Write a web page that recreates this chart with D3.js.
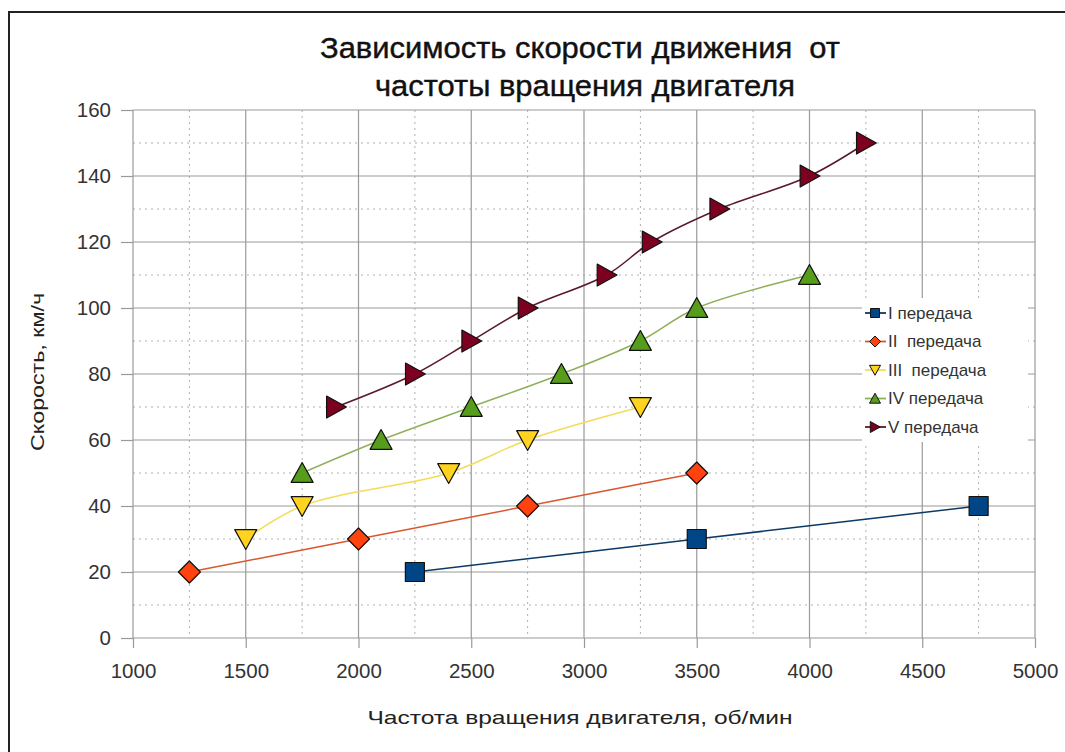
<!DOCTYPE html>
<html>
<head>
<meta charset="utf-8">
<script src="https://cdn.jsdelivr.net/npm/d3@7/dist/d3.min.js"></script>
<style>
  html, body { margin: 0; padding: 0; background: #fff; }
  svg { display: block; font-family: "Liberation Sans", Arial, sans-serif; }
</style>
</head>
<body>
<svg id="chart" width="1065" height="752"></svg>
<script>
// ---- data ----
const titleLines = ["Зависимость скорости движения  от", "частоты вращения двигателя"];
const xAxisTitle = "Частота вращения двигателя, об/мин";
const yAxisTitle = "Скорость, км/ч";
const xTicks = [1000, 1500, 2000, 2500, 3000, 3500, 4000, 4500, 5000];
const xMinor = [1250, 1750, 2250, 2750, 3250, 3750, 4250, 4750];
const yTicks = [0, 20, 40, 60, 80, 100, 120, 140, 160];
const yMinor = [10, 30, 50, 70, 90, 110, 130, 150];
const seriesNames = ["I передача", "II  передача", "III  передача", "IV передача", "V передача"];
const gear1X = [2250, 3500, 4750];
const gear1Y = [20, 30, 40];
const gear2X = [1250, 2000, 2750, 3500];
const gear2Y = [20, 30, 40, 50];
const gear3X = [1500, 1750, 2400, 2750, 3250];
const gear3Y = [30, 40, 50, 60, 70];
const gear4X = [1750, 2100, 2500, 2900, 3250, 3500, 4000];
const gear4Y = [50, 60, 70, 80, 90, 100, 110];
const gear5X = [1900, 2250, 2500, 2750, 3100, 3300, 3600, 4000, 4250];
const gear5Y = [70, 80, 90, 100, 110, 120, 130, 140, 150];

const colors = ["#004586", "#ff420e", "#ffd320", "#579d1c", "#7e0021"];
const lineColors = ["#0b3a66", "#d9572e", "#f2dc5a", "#8fb05a", "#5a1a2a"];

const series = [
  {name: seriesNames[0], xs: gear1X, ys: gear1Y, shape: "square"},
  {name: seriesNames[1], xs: gear2X, ys: gear2Y, shape: "diamond"},
  {name: seriesNames[2], xs: gear3X, ys: gear3Y, shape: "down"},
  {name: seriesNames[3], xs: gear4X, ys: gear4Y, shape: "up"},
  {name: seriesNames[4], xs: gear5X, ys: gear5Y, shape: "right"}
].map((s, i) => ({...s, color: colors[i], lineColor: lineColors[i],
  points: s.xs.map((x, j) => ({x, y: s.ys[j]}))}));

// ---- custom symbol types (size = half-width) ----
const shapes = {
  square: {draw(c, r) { c.moveTo(-r, -r); c.lineTo(r, -r); c.lineTo(r, r); c.lineTo(-r, r); c.closePath(); }},
  diamond: {draw(c, r) { c.moveTo(0, -r); c.lineTo(r, 0); c.lineTo(0, r); c.lineTo(-r, 0); c.closePath(); }},
  down: {draw(c, r) { c.moveTo(-r, -r * 0.85); c.lineTo(r, -r * 0.85); c.lineTo(0, r * 0.95); c.closePath(); }},
  up: {draw(c, r) { c.moveTo(0, -r * 0.95); c.lineTo(r, r * 0.85); c.lineTo(-r, r * 0.85); c.closePath(); }},
  right: {draw(c, r) { c.moveTo(-r * 0.85, -r); c.lineTo(r * 0.95, 0); c.lineTo(-r * 0.85, r); c.closePath(); }}
};
const markerSize = {square: 9.5, diamond: 11, down: 11, up: 11, right: 11};

// ---- layout ----
const svg = d3.select("#chart");
const x = d3.scaleLinear().domain([1000, 5000]).range([133, 1035]);
const y = d3.scaleLinear().domain([0, 160]).range([638, 110]);

// outer frame
svg.append("rect").attr("x", 9).attr("y", 12).attr("width", 1100).attr("height", 800)
  .attr("fill", "#fff").attr("stroke", "#222").attr("stroke-width", 2);

// minor grid
const grid = svg.append("g");
grid.selectAll(".vmin").data(xMinor).enter().append("line")
  .attr("x1", d => x(d)).attr("x2", d => x(d)).attr("y1", y(160)).attr("y2", y(0))
  .attr("stroke", "#b0b0b0").attr("stroke-width", 1).attr("stroke-dasharray", "2,4");
grid.selectAll(".hmin").data(yMinor).enter().append("line")
  .attr("x1", x(1000)).attr("x2", x(5000)).attr("y1", d => y(d)).attr("y2", d => y(d))
  .attr("stroke", "#b0b0b0").attr("stroke-width", 1).attr("stroke-dasharray", "2,4");
// major grid
grid.selectAll(".vmaj").data(xTicks).enter().append("line")
  .attr("x1", d => x(d)).attr("x2", d => x(d)).attr("y1", y(160)).attr("y2", y(0))
  .attr("stroke", "#999").attr("stroke-width", 1.2);
grid.selectAll(".hmaj").data(yTicks).enter().append("line")
  .attr("x1", x(1000)).attr("x2", x(5000)).attr("y1", d => y(d)).attr("y2", d => y(d))
  .attr("stroke", "#999").attr("stroke-width", 1.2);

// axes
const xAxis = svg.append("g").attr("transform", `translate(0,${y(0)})`)
  .call(d3.axisBottom(x).tickValues(xTicks).tickSize(10).tickPadding(12).tickFormat(d3.format("d")));
const yAxis = svg.append("g").attr("transform", `translate(${x(1000)},0)`)
  .call(d3.axisLeft(y).tickValues(yTicks).tickSize(12).tickPadding(10).tickFormat(d3.format("d")));
[xAxis, yAxis].forEach(a => {
  a.select(".domain").remove();
  a.selectAll(".tick line").attr("stroke", "#999").attr("stroke-width", 1.2);
  a.selectAll(".tick text").attr("font-size", 20.5).attr("fill", "#333")
    .attr("font-family", "'Liberation Sans', Arial, sans-serif");
});
xAxis.selectAll(".tick text").attr("dy", "0.9em");

// series lines
const line = d3.line().x(d => x(d.x)).y(d => y(d.y)).curve(d3.curveCatmullRom.alpha(0.5));
const plot = svg.append("g");
series.forEach(s => {
  plot.append("path").datum(s.points).attr("d", line)
    .attr("fill", "none").attr("stroke", s.lineColor).attr("stroke-width", 1.5);
});
series.forEach(s => {
  const sym = d3.symbol().type(shapes[s.shape]).size(markerSize[s.shape]);
  plot.selectAll(null).data(s.points).enter().append("path")
    .attr("d", sym)
    .attr("transform", d => `translate(${x(d.x)},${y(d.y)})`)
    .attr("fill", s.color).attr("stroke", "#111").attr("stroke-width", 1.2)
    .attr("stroke-linejoin", "round");
});

// legend
const legend = svg.append("g");
legend.append("rect").attr("x", 862).attr("y", 298).attr("width", 166).attr("height", 144).attr("fill", "#fff");
series.forEach((s, i) => {
  const ly = 313 + i * 28.5;
  const g = legend.append("g").attr("transform", `translate(0,${ly})`);
  g.append("line").attr("x1", 865).attr("x2", 886).attr("y1", 0).attr("y2", 0)
    .attr("stroke", s.lineColor).attr("stroke-width", 1.8);
  g.append("path").attr("d", d3.symbol().type(shapes[s.shape]).size(s.shape === "square" ? 4.5 : 5.5))
    .attr("transform", "translate(875,0)")
    .attr("fill", s.color).attr("stroke", "#111").attr("stroke-width", 1);
  g.append("text").attr("x", 888).attr("y", 0).attr("dy", "0.35em")
    .attr("font-size", 17).attr("fill", "#333").style("white-space", "pre").text(s.name);
});

// titles
svg.append("text").attr("x", 580).attr("y", 58).attr("text-anchor", "middle")
  .attr("font-size", 29).attr("fill", "#111").attr("stroke", "#111").attr("stroke-width", 0.4)
  .attr("textLength", 520).attr("lengthAdjust", "spacingAndGlyphs")
  .style("white-space", "pre").text(titleLines[0]);
svg.append("text").attr("x", 585).attr("y", 96).attr("text-anchor", "middle")
  .attr("font-size", 29).attr("fill", "#111").attr("stroke", "#111").attr("stroke-width", 0.4)
  .attr("textLength", 420).attr("lengthAdjust", "spacingAndGlyphs")
  .text(titleLines[1]);
svg.append("text").attr("x", 580).attr("y", 724).attr("text-anchor", "middle")
  .attr("font-size", 19).attr("fill", "#222").attr("textLength", 425).attr("lengthAdjust", "spacingAndGlyphs")
  .text(xAxisTitle);
svg.append("text").attr("transform", "translate(44,372) rotate(-90)").attr("text-anchor", "middle")
  .attr("font-size", 19).attr("fill", "#222").attr("textLength", 158).attr("lengthAdjust", "spacingAndGlyphs")
  .text(yAxisTitle);
</script>
</body>
</html>
